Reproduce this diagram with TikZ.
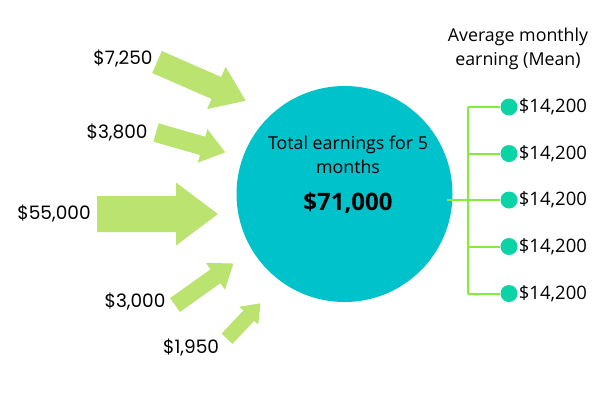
\documentclass[tikz,border=0pt]{standalone}
\usepackage{fontspec}
\setmainfont{Open Sans}
\newfontfamily\labelfont{Poppins}
\usetikzlibrary{positioning}

\definecolor{arrowgreen}{HTML}{BAE46F}
\definecolor{circfill}{HTML}{00C2CB}
\definecolor{dotfill}{HTML}{0AD4A6}
\definecolor{treeline}{HTML}{86EC3C}

% block arrow: tail, angle, length, shaft width, head width, head length
\newcommand\inflow[6]{%
  \begin{scope}[shift={#1}, rotate=#2]
    \fill[arrowgreen] (0,-#4/2) -- (#3-#6,-#4/2) -- (#3-#6,-#5/2) -- (#3,0)
      -- (#3-#6,#5/2) -- (#3-#6,#4/2) -- (0,#4/2) -- cycle;
  \end{scope}}

\begin{document}
\begin{tikzpicture}[x=1pt, y=-1pt,
amount/.style={font=\labelfont\fontsize{18.5}{20}\selectfont, inner sep=0pt},
meanlabel/.style={font=\fontsize{18.5}{20}\selectfont, inner sep=0pt, anchor=west},
monthdot/.style={circle, fill=dotfill, minimum size=17pt, inner sep=0pt},
tree/.style={treeline, line width=2pt}
]
\useasboundingbox (0,0) rectangle (612,408);

% incoming earnings
\inflow{(157,62)}{-23.6}{96.8}{24}{46}{32}
\inflow{(156,132.5)}{-16}{72}{19}{35}{23.5}
\inflow{(97,214)}{0}{121}{36}{63}{42}
\inflow{(175,305)}{35.4}{71.6}{17}{33}{22}
\inflow{(227,338.7)}{46.6}{48.7}{15}{26}{17}

\node[amount] (m1) at (123,59) {\$7,250};
\node[amount] (m2) at (117,132.5) {\$3,800};
\node[amount] (m3) at (54,214) {\$55,000};
\node[amount] (m4) at (135,301.5) {\$3,000};
\node[amount] (m5) at (191,348) {\$1,950};

% total
\node[circle, fill=circfill, minimum size=216pt, inner sep=0pt] (circ) at (344.5,194) {};
\node[align=center, font=\fontsize{17.8}{24}\selectfont, inner sep=0pt] (title) at (348,155) {Total earnings for 5\\months};
\node[font=\bfseries\fontsize{24}{24}\selectfont, inner sep=0pt] (total) at (348,203) {\$71,000};

% monthly mean
\node[align=center, font=\fontsize{17.8}{24}\selectfont, inner sep=0pt] (head) at (518,48.5) {Average monthly\\earning (Mean)};
\coordinate (hub) at (468,200);
\foreach \k/\y in {1/107,2/153.5,3/200,4/246.5,5/293.5} {
  \node[monthdot] (dot\k) at (509,\y) {};
  \node[meanlabel, right=1pt of dot\k] (mean\k) {\$14,200};
  \draw[tree] (hub|-dot\k) -- (dot\k);
}
\draw[tree] (hub|-dot1) -- (hub|-dot5);
\draw[tree] ([xshift=-6pt]hub-|circ.east) -- (hub);
\end{tikzpicture}
\end{document}
